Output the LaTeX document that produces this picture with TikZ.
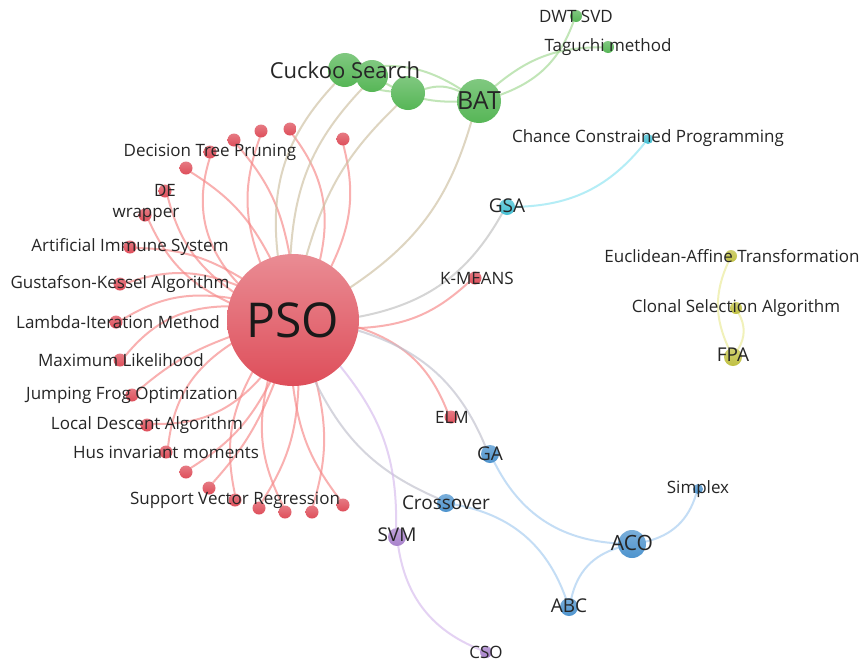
\documentclass[tikz,border=0pt]{standalone}
\usepackage{fontspec}
\setmainfont{Open Sans}
\usetikzlibrary{backgrounds}

% cluster colours
\definecolor{psored}{RGB}{222,78,90}
\definecolor{redline}{RGB}{246,135,135}
\definecolor{cgreen}{RGB}{86,182,86}
\definecolor{greenline}{RGB}{160,216,145}
\definecolor{ccyan}{RGB}{70,192,212}
\definecolor{cyanline}{RGB}{140,228,242}
\definecolor{cyell}{RGB}{192,192,66}
\definecolor{yellline}{RGB}{234,234,150}
\definecolor{cblue}{RGB}{78,148,206}
\definecolor{blueline}{RGB}{165,204,240}
\definecolor{cpurp}{RGB}{168,130,204}
\definecolor{purpline}{RGB}{214,186,238}
\definecolor{mixline}{RGB}{205,192,160}

\tikzset{
  bub/.style={circle, inner sep=0pt, minimum size=#1},
  redbub/.style={bub=#1, top color=psored!75!white, bottom color=psored},
  greenbub/.style={bub=#1, top color=cgreen!75!white, bottom color=cgreen},
  cyanbub/.style={bub=#1, top color=ccyan!75!white, bottom color=ccyan},
  yellbub/.style={bub=#1, top color=cyell!75!white, bottom color=cyell},
  bluebub/.style={bub=#1, top color=cblue!75!white, bottom color=cblue},
  purpbub/.style={bub=#1, top color=cpurp!75!white, bottom color=cpurp},
  lbl/.style={inner sep=0pt, text=black!85, font=\fontsize{17}{20}\selectfont},
  midlbl/.style={lbl, font=\fontsize{19}{22}\selectfont},
  link/.style={line width=2pt, draw opacity=0.65, line cap=round}
}

\begin{document}
\begin{tikzpicture}[x=1pt, y=-1pt]

  \useasboundingbox (0,0) rectangle (860,662);

  % --- centre ---
  \node[redbub=132, top color=psored!65!white] (pso) at (293,320) {};
  \node[inner sep=0pt, text=black!90, font=\fontsize{48}{56}\selectfont] (psoL) at (pso) {PSO};

  % --- red cluster ---
  \node[redbub=13] (r1) at (343,139) {};
  \node[redbub=13] (r2) at (290,129) {};
  \node[redbub=13] (r3) at (261,131) {};
  \node[redbub=13] (r4) at (234,140) {};
  \node[redbub=13] (dtp) at (210,152) {};
  \node[redbub=13] (r5) at (186,168) {};
  \node[redbub=13] (de) at (165,191) {};
  \node[redbub=13] (wrap) at (145,215) {};
  \node[redbub=13] (ais) at (130,247) {};
  \node[redbub=13] (gk) at (120,284) {};
  \node[redbub=13] (lim) at (116,322) {};
  \node[redbub=13] (ml) at (120,360) {};
  \node[redbub=13] (jfo) at (132,395) {};
  \node[redbub=13] (lda) at (147,425) {};
  \node[redbub=13] (hus) at (166,452) {};
  \node[redbub=13] (r6) at (186,472) {};
  \node[redbub=13] (r7) at (209,488) {};
  \node[redbub=13] (svr) at (235,500) {};
  \node[redbub=13] (r8) at (259,508) {};
  \node[redbub=13] (r9) at (285,512) {};
  \node[redbub=13] (r10) at (312,512) {};
  \node[redbub=13] (r11) at (343,505) {};
  \node[redbub=13] (km) at (475,278) {};
  \node[redbub=13] (elm) at (451,417) {};

  \node[lbl] (dtpL) at (210,152) {Decision Tree Pruning};
  \node[lbl] (deL) at (165,190) {DE};
  \node[lbl] (wrapL) at (146,215) {wrapper};
  \node[lbl] (aisL) at (130,247) {Artificial Immune System};
  \node[lbl] (gkL) at (120,284) {Gustafson-Kessel Algorithm};
  \node[lbl] (limL) at (118,322) {Lambda-Iteration Method};
  \node[lbl] (mlL) at (121,360) {Maximum Likelihood};
  \node[lbl] (jfoL) at (132,395) {Jumping Frog Optimization};
  \node[lbl] (ldaL) at (147,425) {Local Descent Algorithm};
  \node[lbl] (husL) at (166,452) {Hus invariant moments};
  \node[lbl] (svrL) at (235,500) {Support Vector Regression};
  \node[lbl] (kmL) at (477,278) {K-MEANS};
  \node[lbl] (elmL) at (452,417) {ELM};

  % --- green cluster ---
  \node[greenbub=34] (cs) at (345,70) {};
  \node[greenbub=32] (g2) at (372,76) {};
  \node[greenbub=34] (g3) at (408,93) {};
  \node[greenbub=44] (bat) at (479,101) {};
  \node[greenbub=12] (dwt) at (576,16) {};
  \node[greenbub=12] (tag) at (608,47) {};
  \node[lbl, font=\fontsize{22}{26}\selectfont] (csL) at (345,70) {Cuckoo Search};
  \node[lbl, font=\fontsize{25}{30}\selectfont] (batL) at (479,101) {BAT};
  \node[lbl] (dwtL) at (576,16) {DWT SVD};
  \node[lbl] (tagL) at (608,47) {Taguchi method};

  % --- cyan cluster ---
  \node[cyanbub=16] (gsa) at (507,207) {};
  \node[cyanbub=10] (ccp) at (648,139) {};
  \node[midlbl] (gsaL) at (507,206) {GSA};
  \node[lbl] (ccpL) at (648,138) {Chance Constrained Programming};

  % --- yellow cluster ---
  \node[yellbub=12] (eat) at (731,256) {};
  \node[yellbub=12] (csa) at (736,308) {};
  \node[yellbub=18] (fpa) at (733,357) {};
  \node[lbl] (eatL) at (732,256) {Euclidean-Affine Transformation};
  \node[lbl] (csaL) at (736,308) {Clonal Selection Algorithm};
  \node[midlbl] (fpaL) at (733,355) {FPA};

  % --- blue cluster ---
  \node[bluebub=18] (ga) at (490,454) {};
  \node[bluebub=18] (cro) at (446,503) {};
  \node[bluebub=28] (aco) at (632,544) {};
  \node[bluebub=10] (smp) at (698,489) {};
  \node[bluebub=18] (abc) at (569,607) {};
  \node[midlbl] (gaL) at (490,454) {GA};
  \node[midlbl] (croL) at (446,503) {Crossover};
  \node[lbl, font=\fontsize{21}{25}\selectfont] (acoL) at (632,543) {ACO};
  \node[lbl] (smpL) at (698,489) {Simplex};
  \node[midlbl] (abcL) at (569,606) {ABC};

  % --- purple cluster ---
  \node[purpbub=18] (svm) at (397,537) {};
  \node[purpbub=12] (cso) at (486,652) {};
  \node[midlbl] (svmL) at (397,535) {SVM};
  \node[lbl] (csoL) at (486,652) {CSO};

  % --- links, behind everything ---
  \begin{scope}[on background layer]
    \fill[white] (0,0) rectangle (860,662);

    % PSO to its own cluster
    \foreach \n/\s/\a in {r1/right/20, r2/right/25, r3/left/20, r4/right/15,
        dtp/left/30, r5/right/15, de/left/20, wrap/left/20, ais/right/15,
        gk/right/20, lim/right/20, ml/right/25, jfo/right/10, lda/left/25,
        hus/right/25, r6/left/15, r7/left/10, svr/right/20, r8/left/15,
        r9/right/20, r10/left/15, r11/right/15, km/right/20, elm/left/25}
      \draw[link, redline] (pso) to[bend \s=\a] (\n);

    % PSO to other clusters
    \draw[link, mixline] (pso) to[bend left=25] (cs);
    \draw[link, mixline] (pso) to[bend left=20] (g2);
    \draw[link, mixline] (pso) to[bend left=15] (g3);
    \draw[link, mixline] (pso) to[bend right=20] (bat);
    \draw[link, black!25] (pso) to[bend right=25] (gsa);
    \draw[link, blue!20!black!25] (pso) to[bend left=25] (ga);
    \draw[link, blue!20!black!25] (pso) to[bend right=20] (cro);
    \draw[link, purpline] (pso) to[bend left=20] (svm);

    % green
    \draw[link, greenline] (cs) to[bend left=20] (bat);
    \draw[link, greenline] (g2) to[bend right=15] (bat);
    \draw[link, greenline] (g3) to[bend left=20] (bat);
    \draw[link, greenline] (cs) to[bend right=15] (g3);
    \draw[link, greenline] (bat) to[bend right=25] (dwt);
    \draw[link, greenline] (bat) to[bend left=20] (tag);

    % cyan
    \draw[link, cyanline] (gsa) to[bend right=25] (ccp);

    % yellow
    \draw[link, yellline] (eat) to[bend right=25] (fpa);
    \draw[link, yellline] (csa) to[bend left=30] (fpa);

    % blue
    \draw[link, blueline] (ga) to[bend right=30] (aco);
    \draw[link, blueline] (cro) to[bend left=30] (abc);
    \draw[link, blueline] (abc) to[bend left=30] (aco);
    \draw[link, blueline] (aco) to[bend right=30] (smp);

    % purple
    \draw[link, purpline] (svm) to[bend right=30] (cso);
  \end{scope}

\end{tikzpicture}
\end{document}
